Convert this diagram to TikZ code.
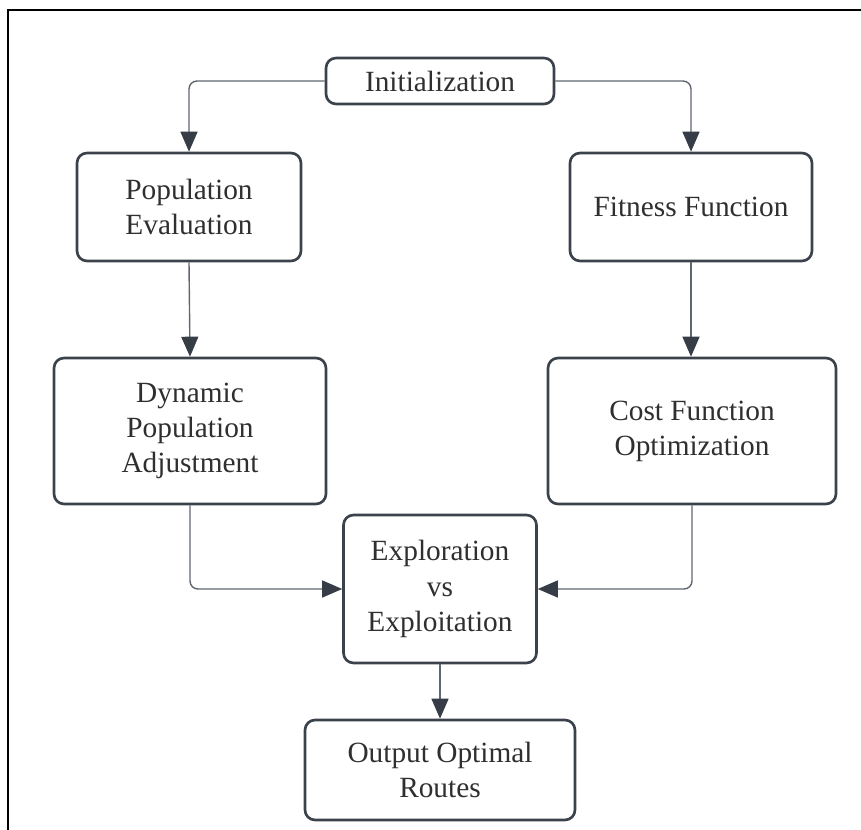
\documentclass[tikz,border=0pt]{standalone}
\usepackage{fontspec}
\setmainfont{Liberation Serif}
\usepackage{tikz}
\usetikzlibrary{arrows.meta}

\definecolor{boxline}{HTML}{3B424B}
\definecolor{conline}{HTML}{5F6670}
\definecolor{tipfill}{HTML}{363D46}
\definecolor{txt}{HTML}{2F2F2F}

\begin{document}
\begin{tikzpicture}[x=0.02cm, y=-0.02cm,
  every node/.style={font=\fontsize{16.7}{20}\selectfont, text=txt, align=center},
  stage/.style={draw=boxline, line width=1.5pt, rounded corners=0.2cm, fill=white, inner sep=0pt},
  flow/.style={draw=conline, line width=0.8pt, rounded corners=0.16cm,
    -{Triangle[length=0.4cm, width=0.34cm, fill=tipfill, color=tipfill]}}]
  \useasboundingbox (0,0) rectangle (861,830);
  % Frame (left and top only)
  \draw[line width=1.3pt, black] (8,830) -- (8,10) -- (861,10);

  % Stages
  \node[stage, minimum width=4.56cm, minimum height=0.92cm] (init) at (440,81) {Initialization};
  \node[stage, minimum width=4.48cm, minimum height=2.16cm] (popeval) at (189,207) {Population\\Evaluation};
  \node[stage, minimum width=4.84cm, minimum height=2.16cm] (fitness) at (691,207) {Fitness Function};
  \node[stage, minimum width=5.44cm, minimum height=2.92cm] (dynpop) at (190,431) {Dynamic\\Population\\Adjustment};
  \node[stage, minimum width=5.76cm, minimum height=2.92cm] (costfn) at (692,431) {Cost Function\\Optimization};
  \node[stage, minimum width=3.86cm, minimum height=2.96cm] (explore) at (440,589) {Exploration\\vs\\Exploitation};
  \node[stage, minimum width=5.4cm, minimum height=2.0cm] (output) at (440,770) {Output Optimal\\Routes};

  % Connectors
  \draw[flow] (init.west) -| (popeval.north);
  \draw[flow] (init.east) -| (fitness.north);
  \draw[flow] (popeval.south) -- (dynpop.north);
  \draw[flow] (fitness.south) -- (fitness.south |- costfn.north);
  \draw[flow] (dynpop.south) |- (explore.west);
  \draw[flow] (costfn.south) |- (explore.east);
  \draw[flow] (explore.south) -- (output.north);
\end{tikzpicture}
\end{document}
